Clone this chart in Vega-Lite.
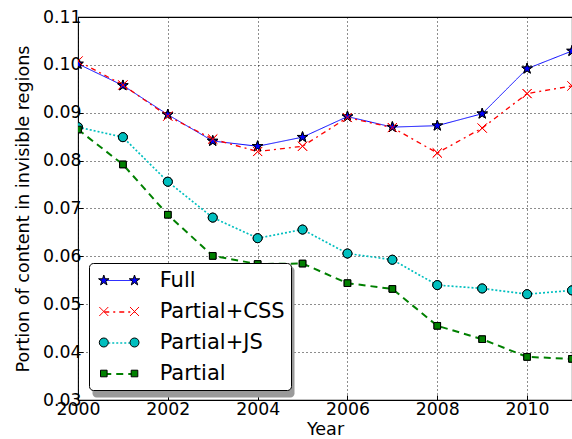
{
  "$schema": "https://vega.github.io/schema/vega-lite/v6.json",
  "width": 494,
  "height": 383,
  "autosize": {"type": "none"},
  "padding": {"left": 78, "top": 17, "right": 0, "bottom": 39},
  "background": "white",
  "config": {
    "view": {"stroke": "black", "strokeWidth": 1.1},
    "font": "DejaVu Sans",
    "axis": {
      "labelFont": "DejaVu Sans", "titleFont": "DejaVu Sans", "labelColor": "black", "titleColor": "black",
      "labelFontSize": 17.3, "titleFontSize": 17.6, "titleFontWeight": "normal",
      "grid": true, "gridColor": "black", "gridDash": [1, 3], "gridOpacity": 1, "gridWidth": 0.9,
      "domain": false, "tickColor": "black", "tickSize": -5, "labelFlush": false, "labelOverlap": false
    },
    "legend": {"labelFont": "DejaVu Sans", "labelFontSize": 21, "labelColor": "black"}
  },
  "data": {"values": [
    {"year": 2000, "series": "Full", "value": 0.1002},
    {"year": 2001, "series": "Full", "value": 0.0957},
    {"year": 2002, "series": "Full", "value": 0.0896},
    {"year": 2003, "series": "Full", "value": 0.0841},
    {"year": 2004, "series": "Full", "value": 0.0830},
    {"year": 2005, "series": "Full", "value": 0.0849},
    {"year": 2006, "series": "Full", "value": 0.0892},
    {"year": 2007, "series": "Full", "value": 0.0870},
    {"year": 2008, "series": "Full", "value": 0.0873},
    {"year": 2009, "series": "Full", "value": 0.0898},
    {"year": 2010, "series": "Full", "value": 0.0992},
    {"year": 2011, "series": "Full", "value": 0.1029},
    {"year": 2000, "series": "Partial+CSS", "value": 0.1008},
    {"year": 2001, "series": "Partial+CSS", "value": 0.0958},
    {"year": 2002, "series": "Partial+CSS", "value": 0.0893},
    {"year": 2003, "series": "Partial+CSS", "value": 0.0845},
    {"year": 2004, "series": "Partial+CSS", "value": 0.0819},
    {"year": 2005, "series": "Partial+CSS", "value": 0.0830},
    {"year": 2006, "series": "Partial+CSS", "value": 0.0890},
    {"year": 2007, "series": "Partial+CSS", "value": 0.0869},
    {"year": 2008, "series": "Partial+CSS", "value": 0.0816},
    {"year": 2009, "series": "Partial+CSS", "value": 0.0868},
    {"year": 2010, "series": "Partial+CSS", "value": 0.0940},
    {"year": 2011, "series": "Partial+CSS", "value": 0.0956},
    {"year": 2000, "series": "Partial+JS", "value": 0.0870},
    {"year": 2001, "series": "Partial+JS", "value": 0.0849},
    {"year": 2002, "series": "Partial+JS", "value": 0.0756},
    {"year": 2003, "series": "Partial+JS", "value": 0.0681},
    {"year": 2004, "series": "Partial+JS", "value": 0.0638},
    {"year": 2005, "series": "Partial+JS", "value": 0.0656},
    {"year": 2006, "series": "Partial+JS", "value": 0.0606},
    {"year": 2007, "series": "Partial+JS", "value": 0.0593},
    {"year": 2008, "series": "Partial+JS", "value": 0.0540},
    {"year": 2009, "series": "Partial+JS", "value": 0.0533},
    {"year": 2010, "series": "Partial+JS", "value": 0.0521},
    {"year": 2011, "series": "Partial+JS", "value": 0.0529},
    {"year": 2000, "series": "Partial", "value": 0.0865},
    {"year": 2001, "series": "Partial", "value": 0.0792},
    {"year": 2002, "series": "Partial", "value": 0.0687},
    {"year": 2003, "series": "Partial", "value": 0.0601},
    {"year": 2004, "series": "Partial", "value": 0.0584},
    {"year": 2005, "series": "Partial", "value": 0.0585},
    {"year": 2006, "series": "Partial", "value": 0.0544},
    {"year": 2007, "series": "Partial", "value": 0.0532},
    {"year": 2008, "series": "Partial", "value": 0.0455},
    {"year": 2009, "series": "Partial", "value": 0.0427},
    {"year": 2010, "series": "Partial", "value": 0.0390},
    {"year": 2011, "series": "Partial", "value": 0.0386}
  ]},
  "encoding": {
    "x": {"field": "year", "type": "quantitative",
      "scale": {"domain": [2000, 2011], "nice": false, "zero": false},
      "axis": {"values": [2000, 2002, 2004, 2006, 2008, 2010], "format": "d", "title": "Year", "labelPadding": 5, "titlePadding": 3}},
    "y": {"field": "value", "type": "quantitative",
      "scale": {"domain": [0.03, 0.11], "nice": false, "zero": false},
      "axis": {"values": [0.03, 0.04, 0.05, 0.06, 0.07, 0.08, 0.09, 0.10, 0.11], "format": ".2f", "title": "Portion of content in invisible regions", "labelPadding": 2, "titlePadding": 10}}
  },
  "layer": [
    {
      "mark": {"type": "point", "filled": true, "size": 484, "opacity": 0, "clip": true},
      "encoding": {
        "color": {"field": "series", "type": "nominal",
          "scale": {"domain": ["Full", "Partial+CSS", "Partial+JS", "Partial"], "range": ["transparent", "transparent", "transparent", "transparent"]},
          "legend": {"title": null, "orient": "none", "legendX": 14, "legendY": 249, "fillColor": "#9a9a9a", "strokeColor": "transparent", "cornerRadius": 4, "padding": 6, "rowPadding": 9, "symbolSize": 484, "symbolOffset": 12.65, "labelOffset": 28, "labelFontSize": 21, "labelOpacity": 0, "symbolOpacity": 0}}
      }
    },
    {
      "mark": {"type": "line", "clip": true},
      "encoding": {
        "color": {"field": "series", "type": "nominal",
          "scale": {"domain": ["Full", "Partial+CSS", "Partial+JS", "Partial"], "range": ["#0000ff", "#ff0000", "#00bfbf", "#008000"]},
          "legend": {"title": null, "orient": "none", "legendX": 11, "legendY": 246, "fillColor": "white", "strokeColor": "black", "cornerRadius": 4, "padding": 6, "rowPadding": 9, "symbolType": "M-1.4,0H1.4", "symbolSize": 484, "symbolOffset": 12.65, "labelOffset": 28, "labelFontSize": 21}},
        "strokeDash": {"field": "series", "type": "nominal",
          "scale": {"domain": ["Full", "Partial+CSS", "Partial+JS", "Partial"], "range": [[1, 0], [5, 4, 2, 4], [2, 2], [7, 5]]}},
        "strokeWidth": {"field": "series", "type": "ordinal",
          "scale": {"domain": ["Full", "Partial+CSS", "Partial+JS", "Partial"], "range": [1, 2, 2, 2]}}
      }
    },
    {
      "mark": {"type": "point", "filled": true, "size": 484, "opacity": 1, "strokeWidth": 1, "clip": true},
      "encoding": {
        "shape": {"field": "series", "type": "nominal",
          "scale": {"domain": ["Full", "Partial+CSS", "Partial+JS", "Partial"], "range": [
            "M0,-0.5L0.112,-0.155L0.476,-0.155L0.182,0.059L0.294,0.405L0,0.191L-0.294,0.405L-0.182,0.059L-0.476,-0.155L-0.112,-0.155Z",
            "M-0.41,-0.41L0.41,0.41M-0.41,0.41L0.41,-0.41",
            "M-0.41,0A0.41,0.41,0,1,0,0.41,0A0.41,0.41,0,1,0,-0.41,0Z",
            "M-0.3,-0.3H0.3V0.3H-0.3Z"]},
          "legend": {"title": null, "orient": "none", "legendX": -4.35, "legendY": 246, "padding": 6, "rowPadding": 9, "symbolSize": 484, "symbolOffset": 12.65, "labelOffset": 28, "labelFontSize": 21, "labelOpacity": 0, "symbolOpacity": 1, "symbolStrokeWidth": 1}},
        "fill": {"field": "series", "type": "nominal",
          "scale": {"domain": ["Full", "Partial+CSS", "Partial+JS", "Partial"], "range": ["#0000ff", "#ff0000", "#00bfbf", "#008000"]}},
        "stroke": {"field": "series", "type": "nominal",
          "scale": {"domain": ["Full", "Partial+CSS", "Partial+JS", "Partial"], "range": ["#000000", "#ff0000", "#000000", "#000000"]}}
      }
    },
    {
      "mark": {"type": "point", "filled": true, "size": 484, "opacity": 1, "strokeWidth": 1, "clip": true},
      "encoding": {
        "shape": {"field": "series", "type": "nominal",
          "scale": {"domain": ["Full", "Partial+CSS", "Partial+JS", "Partial"], "range": [
            "M0,-0.5L0.112,-0.155L0.476,-0.155L0.182,0.059L0.294,0.405L0,0.191L-0.294,0.405L-0.182,0.059L-0.476,-0.155L-0.112,-0.155Z",
            "M-0.41,-0.41L0.41,0.41M-0.41,0.41L0.41,-0.41",
            "M-0.41,0A0.41,0.41,0,1,0,0.41,0A0.41,0.41,0,1,0,-0.41,0Z",
            "M-0.3,-0.3H0.3V0.3H-0.3Z"]},
          "legend": {"title": null, "orient": "none", "legendX": 26.35, "legendY": 246, "padding": 6, "rowPadding": 9, "symbolSize": 484, "symbolOffset": 12.65, "labelOffset": 28, "labelFontSize": 21, "labelOpacity": 0, "symbolOpacity": 1, "symbolStrokeWidth": 1}},
        "fill": {"field": "series", "type": "nominal",
          "scale": {"domain": ["Full", "Partial+CSS", "Partial+JS", "Partial"], "range": ["#0000ff", "#ff0000", "#00bfbf", "#008000"]}},
        "stroke": {"field": "series", "type": "nominal",
          "scale": {"domain": ["Full", "Partial+CSS", "Partial+JS", "Partial"], "range": ["#000000", "#ff0000", "#000000", "#000000"]}}
      }
    }
  ],
  "resolve": {
    "scale": {"color": "independent", "shape": "independent", "fill": "independent", "stroke": "independent", "strokeDash": "independent", "strokeWidth": "independent"},
    "legend": {"color": "independent", "shape": "independent", "fill": "independent", "stroke": "independent", "strokeDash": "independent", "strokeWidth": "independent"}
  }
}
